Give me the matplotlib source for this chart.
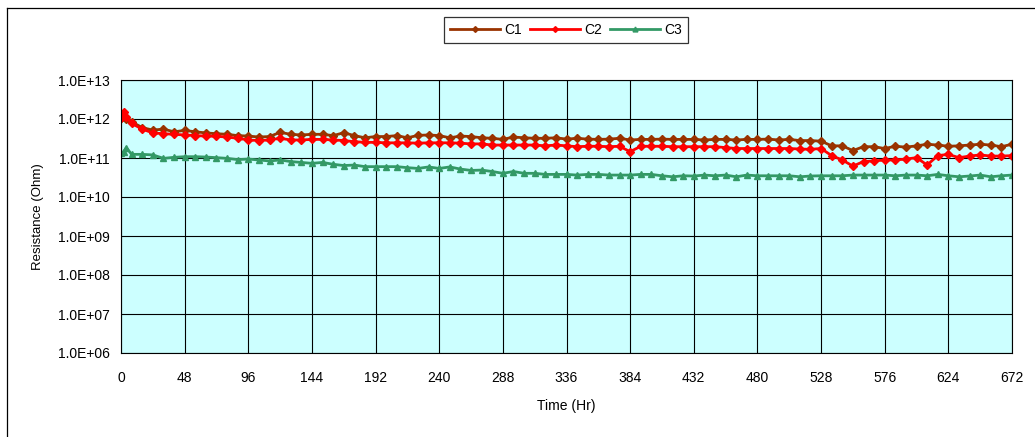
import numpy as np
import matplotlib
matplotlib.use('Agg')
from matplotlib import pyplot as plt
from matplotlib.ticker import FixedLocator, FuncFormatter, NullLocator
from matplotlib.lines import Line2D

plt.rcParams['font.family'] = ['Liberation Sans', 'DejaVu Sans']

# time points (hr)
hours = [0, 2, 4] + list(range(8, 673, 8))

c1 = [1.04e12, 1.15e12, 1.0e12, 8.5e11, 6.0e11, 5.2e11, 5.5e11, 4.7e11, 5.1e11, 4.7e11,
      4.4e11, 4.2e11, 4.05e11, 3.75e11, 3.65e11, 3.45e11, 3.55e11, 4.55e11, 4.05e11, 3.9e11,
      4.05e11, 4.05e11, 3.75e11, 4.45e11, 3.75e11, 3.3e11, 3.55e11, 3.55e11, 3.75e11, 3.3e11,
      3.8e11, 3.9e11, 3.75e11, 3.3e11, 3.65e11, 3.55e11, 3.3e11, 3.2e11, 3.0e11, 3.45e11,
      3.3e11, 3.2e11, 3.2e11, 3.3e11, 3.05e11, 3.2e11, 3.05e11, 3.0e11, 3.05e11, 3.2e11,
      2.9e11, 3.0e11, 3.0e11, 3.05e11, 3.0e11, 3.0e11, 3.0e11, 2.9e11, 3.0e11, 3.0e11,
      2.9e11, 3.0e11, 3.0e11, 3.05e11, 2.9e11, 3.0e11, 2.8e11, 2.8e11, 2.7e11, 2.05e11,
      2.05e11, 1.55e11, 1.95e11, 1.95e11, 1.75e11, 2.0e11, 1.9e11, 2.05e11, 2.25e11, 2.15e11,
      2.0e11, 2.05e11, 2.15e11, 2.25e11, 2.15e11, 1.95e11, 2.25e11]

c2 = [1.04e12, 1.48e12, 1.15e12, 7.7e11, 5.5e11, 4.4e11, 4.2e11, 4.05e11, 3.9e11, 3.75e11,
      3.65e11, 3.6e11, 3.45e11, 3.2e11, 2.9e11, 2.8e11, 2.9e11, 3.2e11, 2.9e11, 2.9e11,
      3.0e11, 3.0e11, 2.9e11, 2.8e11, 2.62e11, 2.52e11, 2.52e11, 2.45e11, 2.45e11, 2.45e11,
      2.4e11, 2.45e11, 2.45e11, 2.45e11, 2.4e11, 2.3e11, 2.3e11, 2.15e11, 2.15e11, 2.15e11,
      2.15e11, 2.15e11, 2.05e11, 2.15e11, 2.05e11, 1.95e11, 2.0e11, 2.0e11, 1.95e11, 2.0e11,
      1.45e11, 2.0e11, 2.0e11, 2.0e11, 1.95e11, 1.95e11, 1.95e11, 1.95e11, 1.95e11, 1.85e11,
      1.75e11, 1.75e11, 1.75e11, 1.75e11, 1.75e11, 1.75e11, 1.7e11, 1.67e11, 1.75e11, 1.15e11,
      8.9e10, 6.2e10, 8.1e10, 8.4e10, 8.9e10, 8.9e10, 9.4e10, 1.02e11, 6.6e10, 1.15e11,
      1.24e11, 1.02e11, 1.12e11, 1.2e11, 1.12e11, 1.12e11, 1.15e11]

c3 = [1.32e11, 1.45e11, 1.85e11, 1.24e11, 1.24e11, 1.2e11, 9.8e10, 1.04e11, 1.08e11, 1.08e11,
      1.06e11, 1.02e11, 9.8e10, 9.1e10, 9.4e10, 8.9e10, 8.4e10, 8.9e10, 8.1e10, 7.7e10,
      7.3e10, 7.7e10, 6.9e10, 6.4e10, 6.6e10, 6.0e10, 6.0e10, 6.0e10, 6.0e10, 5.65e10,
      5.4e10, 5.9e10, 5.4e10, 5.9e10, 5.2e10, 4.8e10, 4.9e10, 4.5e10, 4.05e10, 4.5e10,
      4.05e10, 4.05e10, 3.8e10, 3.8e10, 3.8e10, 3.65e10, 3.8e10, 3.8e10, 3.65e10, 3.65e10,
      3.65e10, 3.8e10, 3.8e10, 3.5e10, 3.3e10, 3.5e10, 3.45e10, 3.65e10, 3.5e10, 3.65e10,
      3.3e10, 3.65e10, 3.5e10, 3.5e10, 3.5e10, 3.5e10, 3.3e10, 3.45e10, 3.5e10, 3.5e10,
      3.5e10, 3.65e10, 3.65e10, 3.65e10, 3.65e10, 3.5e10, 3.65e10, 3.65e10, 3.5e10, 3.8e10,
      3.5e10, 3.3e10, 3.45e10, 3.65e10, 3.3e10, 3.5e10, 3.65e10]

series_names = ['C1', 'C2', 'C3']
x_ticks = list(range(0, 673, 48))
y_ticks = [1e6, 1e7, 1e8, 1e9, 1e10, 1e11, 1e12, 1e13]

fig = plt.figure(figsize=(10.35, 4.37), dpi=100)
W, H = 1035, 437

# outer chart border (left + top, runs off the right/bottom edges)
fig.add_artist(Line2D([7 / W, 7 / W], [0, 1 - 8 / H], color='black', lw=0.9, transform=fig.transFigure))
fig.add_artist(Line2D([7 / W, 1], [1 - 8 / H, 1 - 8 / H], color='black', lw=0.9, transform=fig.transFigure))

ax = fig.add_axes([121 / W, 1 - 353 / H, (1012 - 121) / W, (353 - 80) / H])
ax.set_facecolor('#CCFFFF')

ax.plot(hours, c1, color='#993300', marker='D', markersize=4.2, lw=2.0, label=series_names[0])
ax.plot(hours, c2, color='#FF0000', marker='D', markersize=4.2, lw=2.0, label=series_names[1])
ax.plot(hours, c3, color='#339966', marker='^', markersize=5, lw=2.0, label=series_names[2])

ax.set_yscale('log')
ax.set_xlim(0, 672)
ax.set_ylim(1e6, 1e13)
ax.xaxis.set_major_locator(FixedLocator(x_ticks))
ax.yaxis.set_major_locator(FixedLocator(y_ticks))
ax.yaxis.set_minor_locator(NullLocator())
ax.yaxis.set_major_formatter(FuncFormatter(lambda v, p: '1.0E+%02d' % round(np.log10(v))))
ax.grid(True, color='black', lw=0.8)
ax.set_axisbelow(True)
for s in ax.spines.values():
    s.set_color('black')
    s.set_linewidth(0.8)
ax.tick_params(axis='both', length=0, labelsize=10)
ax.tick_params(axis='x', pad=13)
ax.tick_params(axis='y', pad=8)

ax.set_xlabel('Time (Hr)', fontsize=10, labelpad=10)
ax.set_ylabel('Resistance (Ohm)', fontsize=9.5, labelpad=10)

leg = fig.legend(loc='center', bbox_to_anchor=(566 / W, 1 - 30 / H), ncol=3, fontsize=10,
                 frameon=True, fancybox=False, edgecolor='black', handlelength=3.6,
                 columnspacing=0.6, handletextpad=0.3, borderpad=0.45, markerscale=0.7)
leg.get_frame().set_linewidth(0.9)

fig.savefig('out.png', dpi=100)
